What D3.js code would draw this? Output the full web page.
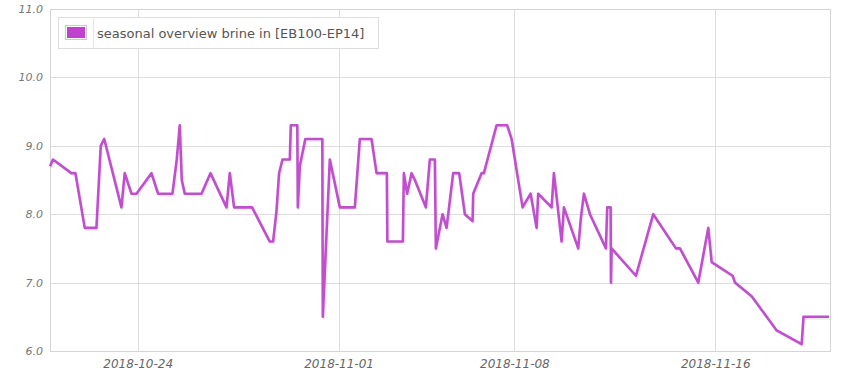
<!DOCTYPE html>
<html>
<head>
<meta charset="utf-8">
<script src="https://cdn.jsdelivr.net/npm/d3@7"></script>
<style>
  body { margin: 0; background: #fff; }
  svg { display: block; }
  text { font-family: "DejaVu Sans", Verdana, sans-serif; }
</style>
</head>
<body>
<svg id="chart" width="850" height="375"></svg>
<script>
const seriesName = "seasonal overview brine in [EB100-EP14]";

const times = [
  "2018-10-20 12:10", "2018-10-20 15:00", "2018-10-21 08:36", "2018-10-21 12:26",
  "2018-10-21 21:19", "2018-10-22 08:31", "2018-10-22 12:38", "2018-10-22 15:58",
  "2018-10-23 08:24", "2018-10-23 11:34", "2018-10-23 17:58", "2018-10-23 22:45",
  "2018-10-24 13:06", "2018-10-24 19:25", "2018-10-25 09:10", "2018-10-25 13:17",
  "2018-10-25 16:09", "2018-10-25 18:04", "2018-10-25 20:57", "2018-10-26 12:55",
  "2018-10-26 21:30", "2018-10-27 12:49", "2018-10-27 15:58", "2018-10-27 20:05",
  "2018-10-28 13:18", "2018-10-29 06:13", "2018-10-29 09:22", "2018-10-29 12:37",
  "2018-10-29 15:06", "2018-10-29 18:21", "2018-10-30 01:20", "2018-10-30 02:18",
  "2018-10-30 08:31", "2018-10-30 09:00", "2018-10-30 10:54", "2018-10-30 16:09",
  "2018-10-31 08:25", "2018-10-31 08:54", "2018-10-31 15:35", "2018-11-01 01:09",
  "2018-11-01 15:29", "2018-11-01 20:17", "2018-11-02 07:27", "2018-11-02 12:14",
  "2018-11-02 22:05", "2018-11-02 22:34", "2018-11-03 13:23", "2018-11-03 14:21",
  "2018-11-03 17:30", "2018-11-03 21:42", "2018-11-04 00:52", "2018-11-04 11:23",
  "2018-11-04 15:12", "2018-11-04 19:59", "2018-11-04 20:56", "2018-11-05 03:20",
  "2018-11-05 07:10", "2018-11-05 13:29", "2018-11-05 19:13", "2018-11-06 00:40",
  "2018-11-06 08:02", "2018-11-06 08:37", "2018-11-06 16:38", "2018-11-06 18:50",
  "2018-11-07 06:59", "2018-11-07 17:07", "2018-11-07 21:19", "2018-11-08 07:50",
  "2018-11-08 15:29", "2018-11-08 21:13", "2018-11-08 22:45", "2018-11-09 11:34",
  "2018-11-09 13:46", "2018-11-09 21:07", "2018-11-09 23:20", "2018-11-10 13:00",
  "2018-11-10 15:35", "2018-11-10 18:27", "2018-11-11 00:11", "2018-11-11 15:29",
  "2018-11-11 16:44", "2018-11-11 19:59", "2018-11-11 20:17", "2018-11-11 20:57",
  "2018-11-12 20:11", "2018-11-13 12:43", "2018-11-14 10:25", "2018-11-14 14:15",
  "2018-11-15 07:45", "2018-11-15 17:18", "2018-11-15 20:34", "2018-11-16 16:38",
  "2018-11-16 18:50", "2018-11-17 10:48", "2018-11-18 10:42", "2018-11-19 10:36",
  "2018-11-19 12:20", "2018-11-20 12:43"
];

const values = [
  8.7, 8.8, 8.6, 8.6,
  7.8, 7.8, 9.0, 9.1,
  8.1, 8.6, 8.3, 8.3,
  8.6, 8.3, 8.3, 8.8,
  9.3, 8.5, 8.3, 8.3,
  8.6, 8.1, 8.6, 8.1,
  8.1, 7.6, 7.6, 8.05,
  8.6, 8.8, 8.8, 9.3,
  9.3, 8.1, 8.7, 9.1,
  9.1, 6.5, 8.8, 8.1,
  8.1, 9.1, 9.1, 8.6,
  8.6, 7.6, 7.6, 8.6,
  8.3, 8.6, 8.5, 8.1,
  8.8, 8.8, 7.5, 8.0,
  7.8, 8.6, 8.6, 8.0,
  7.9, 8.3, 8.6, 8.6,
  9.3, 9.3, 9.1, 8.1,
  8.3, 7.8, 8.3, 8.1,
  8.6, 7.6, 8.1, 7.5,
  7.95, 8.3, 8.0, 7.5,
  8.1, 8.1, 7.0, 7.5,
  7.1, 8.0, 7.5, 7.5,
  7.0, 7.8, 7.3, 7.1,
  7.0, 6.8, 6.3, 6.1,
  6.5, 6.5
];

const xTicks = ["2018-10-24", "2018-11-01", "2018-11-08", "2018-11-16"];
const yTicks = [6, 7, 8, 9, 10, 11];
const xRange = ["2018-10-20 12:09", "2018-11-20 14:38"];

const parseTime = d3.timeParse("%Y-%m-%d %H:%M");
const parseDay = d3.timeParse("%Y-%m-%d");
const data = times.map((t, i) => ({ t: parseTime(t), v: values[i] }));

const margin = { top: 9, right: 19, bottom: 24, left: 50 };
const width = 850, height = 375;
const color = "#c04fce";
const font = '"DejaVu Sans", Verdana, sans-serif';

const svg = d3.select("#chart");

const x = d3.scaleTime()
    .domain(xRange.map(parseTime))
    .range([margin.left, width - margin.right]);

const y = d3.scaleLinear()
    .domain([6, 11])
    .range([height - margin.bottom, margin.top]);

// grid
const grid = svg.append("g");
grid.selectAll("line.h")
    .data(yTicks)
    .enter().append("line")
    .attr("x1", margin.left).attr("x2", width - margin.right)
    .attr("y1", d => Math.round(y(d)) + 0.5).attr("y2", d => Math.round(y(d)) + 0.5)
    .attr("stroke", "#dddddd");

grid.selectAll("line.v")
    .data(xTicks.map(parseDay))
    .enter().append("line")
    .attr("x1", d => Math.round(x(d)) + 0.5).attr("x2", d => Math.round(x(d)) + 0.5)
    .attr("y1", margin.top).attr("y2", height - margin.bottom)
    .attr("stroke", "#dddddd");

// border
svg.append("rect")
    .attr("x", margin.left + 0.5).attr("y", margin.top + 0.5)
    .attr("width", width - margin.left - margin.right - 1)
    .attr("height", height - margin.top - margin.bottom)
    .attr("fill", "none")
    .attr("stroke", "#d4d4d4");

// axes
const xAxis = d3.axisBottom(x)
    .tickValues(xTicks.map(parseDay))
    .tickFormat(d3.timeFormat("%Y-%m-%d"))
    .tickSize(0).tickPadding(8);

const xAxisGroup = svg.append("g")
    .attr("transform", `translate(0,${height - margin.bottom})`)
    .attr("font-family", font)
    .call(xAxis);
xAxisGroup.select(".domain").remove();
xAxisGroup.selectAll("text")
    .style("font-family", font)
    .style("font-size", "12px")
    .style("font-style", "italic")
    .attr("fill", "#666");

const yAxis = d3.axisLeft(y)
    .tickValues(yTicks)
    .tickFormat(d3.format(".1f"))
    .tickSize(0).tickPadding(7);

const yAxisGroup = svg.append("g")
    .attr("transform", `translate(${margin.left},0)`)
    .attr("font-family", font)
    .call(yAxis);
yAxisGroup.select(".domain").remove();
yAxisGroup.selectAll("text")
    .style("font-family", font)
    .style("font-size", "11px")
    .style("font-style", "italic")
    .attr("fill", "#777");

// line + shadow
const line = d3.line()
    .x(d => x(d.t))
    .y(d => y(d.v));

svg.append("path")
    .datum(data)
    .attr("d", line)
    .attr("transform", "translate(1,1.5)")
    .attr("fill", "none")
    .attr("stroke", "#000")
    .attr("stroke-opacity", 0.08)
    .attr("stroke-width", 3)
    .attr("stroke-linejoin", "round");

svg.append("path")
    .datum(data)
    .attr("d", line)
    .attr("fill", "none")
    .attr("stroke", color)
    .attr("stroke-width", 2.6)
    .attr("stroke-linejoin", "round");

// legend
const legend = svg.append("g").attr("transform", "translate(58,17)");
legend.append("rect")
    .attr("x", 0.5).attr("y", 0.5).attr("width", 320).attr("height", 31)
    .attr("fill", "#fff").attr("stroke", "#dddddd");
legend.append("line")
    .attr("x1", 35.5).attr("x2", 35.5).attr("y1", 0.5).attr("y2", 31.5)
    .attr("stroke", "#e6e6e6");
legend.append("rect")
    .attr("x", 7.5).attr("y", 8.5).attr("width", 21).attr("height", 14)
    .attr("fill", "#fff").attr("stroke", "#cccccc");
legend.append("rect")
    .attr("x", 9).attr("y", 10).attr("width", 18).attr("height", 11)
    .attr("fill", "#c040d0");
legend.append("text")
    .attr("x", 39).attr("y", 20.5)
    .style("font-family", font)
    .style("font-size", "13px")
    .attr("fill", "#555")
    .text(seriesName);
</script>
</body>
</html>
